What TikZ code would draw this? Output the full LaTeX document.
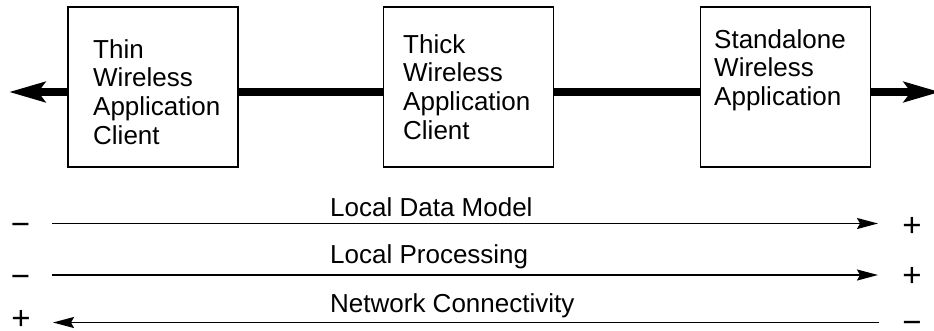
\documentclass[tikz,border=0pt]{standalone}
\usepackage{fontspec}
\setmainfont{Liberation Sans}
\usetikzlibrary{arrows.meta}
\begin{document}
\begin{tikzpicture}[x=1pt,y=-1pt,
  appbox/.style={draw, line width=1.5pt, minimum width=170pt, minimum height=160pt, inner sep=0pt},
  boxtext/.style={anchor=north west, align=left, inner sep=0pt,
    font=\fontsize{26}{28.8}\selectfont},
  spine/.style={line width=8pt, -{Stealth[length=36pt,width=20pt,inset=7pt]}},
  spineplain/.style={line width=8pt},
  scale line/.style={line width=1.7pt, -{Stealth[length=21pt,width=11pt,inset=3pt]}},
  scalelabel/.style={anchor=base west, inner sep=0pt, font=\fontsize{26}{30}\selectfont},
  sign/.style={anchor=base, inner sep=0pt, font=\fontsize{33}{34}\selectfont}]
\useasboundingbox (0,0) rectangle (934,330);

% the three client types
\node[appbox] (thin)  at (153,87)   {};
\node[appbox] (thick) at (468.5,87) {};
\node[appbox] (stand) at (785.5,87) {};

\node[boxtext] (thintxt)  at (93,39)  {Thin\\Wireless\\Application\\Client};
\node[boxtext] (thicktxt) at (403,34) {Thick\\Wireless\\Application\\Client};
\node[boxtext] (standtxt) at (714,29) {Standalone\\Wireless\\Application};

% thick spine through the boxes
\coordinate (leftend)  at (9,92);
\coordinate (rightend) at (940,92);
\draw[spine] ([yshift=-5pt]thin.west) -- (leftend);
\draw[spineplain] ([yshift=-5pt]thin.east) -- ([yshift=-5pt]thick.west);
\draw[spineplain] ([yshift=-5pt]thick.east) -- ([yshift=-5pt]stand.west);
\draw[spine] ([yshift=-5pt]stand.east) -- (rightend);

% scales below: signs set on their baselines
\node[sign] (m1) at (20.5,235)  {−};
\node[sign] (p1) at (912,236)   {+};
\node[sign] (m2) at (20.5,287)  {−};
\node[sign] (p2) at (912,286)   {+};
\node[sign] (p3) at (21,329)    {+};
\node[sign] (m3) at (912,333.5) {−};

\coordinate (a1) at (52,223.5);  \coordinate (b1) at (878,223.5);
\coordinate (a2) at (52,275);    \coordinate (b2) at (878,275);
\coordinate (a3) at (53,322.5);  \coordinate (b3) at (879,322.5);

\draw[scale line] (a1) -- (b1);
\draw[scale line] (a2) -- (b2);
\draw[scale line] (b3) -- (a3);

\node[scalelabel] (ldm) at (330,216) {Local Data Model};
\node[scalelabel] (lp)  at (330,263) {Local Processing};
\node[scalelabel] (nc)  at (330,312) {Network Connectivity};
\end{tikzpicture}
\end{document}
